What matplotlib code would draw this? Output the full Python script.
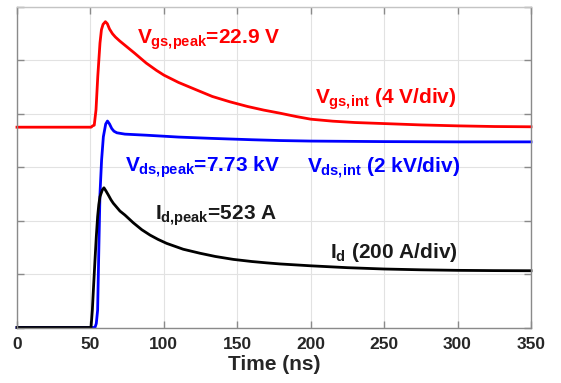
import matplotlib
matplotlib.use('Agg')
import matplotlib.pyplot as plt
import numpy as np

plt.rcParams['font.family'] = 'Liberation Sans'
plt.rcParams['mathtext.fontset'] = 'custom'
plt.rcParams['mathtext.rm'] = 'Liberation Sans:bold'
plt.rcParams['mathtext.it'] = 'Liberation Sans:bold'
plt.rcParams['mathtext.bf'] = 'Liberation Sans:bold'

########################################################
# Waveforms (time in ns)
########################################################

# gate-source voltage, V
t_vgs = [0, 50.5, 51.5, 52.6, 53.8, 55.0, 56.5, 57.5, 58.6, 60.2, 61.5, 63, 65, 67, 70,
         75, 80, 88, 95, 100, 110, 122, 133, 145, 157, 168, 179, 190, 200, 215, 230,
         250, 275, 300, 325, 350]
vgs = [15.0, 15.0, 15.1, 15.15, 16.3, 18.8, 21.3, 22.3, 22.7, 22.9, 22.75, 22.35, 22.0,
       21.75, 21.45, 21.0, 20.55, 19.8, 19.25, 18.9, 18.35, 17.8, 17.3, 16.9, 16.55,
       16.28, 16.05, 15.8, 15.6, 15.45, 15.35, 15.27, 15.17, 15.1, 15.05, 15.03]

# drain-source voltage, kV
t_vds = [0, 53.1, 54.0, 54.9, 55.8, 56.5, 57.6, 58.8, 60.4, 61.6, 63, 64.5, 66, 68, 73.5,
         88, 110, 133, 160, 179, 200, 250, 300, 350]
vds = [0, 0, 0.15, 0.65, 3.15, 5.0, 6.27, 7.14, 7.62, 7.73, 7.62, 7.45, 7.35, 7.29, 7.24,
       7.2, 7.13, 7.08, 7.03, 7.0, 6.98, 6.96, 6.95, 6.95]

# drain current, A
t_id = [0, 50.4, 51.3, 52.2, 53.1, 54.0, 54.9, 55.7, 56.5, 58.1, 59.2, 60.5, 62.2, 64,
        65.6, 66.7, 70.1, 73.5, 79.2, 85, 90.6, 96, 101.9, 113.2, 124.6, 135, 147.3, 160,
        170, 179, 200, 225, 250, 275, 300, 325, 350]
i_d = [0, 0, 65, 160, 252, 340, 415, 460, 490, 515, 523, 512, 496, 478, 465, 458, 436,
       421, 392, 366, 346, 330, 315, 293, 278, 266, 255, 247, 242, 238, 231, 224, 219,
       216, 214, 213, 212.5]

# volts per division for each trace
VGS_DIV = 4
VDS_DIV = 2
ID_DIV = 200

x_ticks = [0, 50, 100, 150, 200, 250, 300, 350]

########################################################
# Plot
########################################################

fig = plt.figure(figsize=(5.61, 3.83), dpi=100)
ax = fig.add_axes([17 / 561, 1 - 327.5 / 383, 514 / 561, 320.5 / 383])

ax.plot(t_vgs, np.array(vgs) / VGS_DIV, color='#ff0000', lw=2.0, clip_on=False)
ax.plot(t_vds, np.array(vds) / VDS_DIV, color='#0000ff', lw=2.0, clip_on=False)
ax.plot(t_id, np.array(i_d) / ID_DIV, color='black', lw=2.0, clip_on=False)

ax.set_xlim(0, 350)
ax.set_ylim(0, 6)
ax.set_xticks(x_ticks)
ax.set_yticks(np.arange(0, 7))
ax.grid(True, color='#e2e2e2', lw=0.8)
ax.set_axisbelow(True)

for side in ['left', 'right', 'bottom']:
    ax.spines[side].set_color('#8a8a8a')
    ax.spines[side].set_linewidth(1.0)
ax.spines['top'].set_color('#c4c4c4')
ax.spines['top'].set_linewidth(1.0)

ax.tick_params(direction='in', top=True, right=True, length=5, width=1,
               color='#8a8a8a', labelleft=False, pad=7)
for lbl in ax.get_xticklabels():
    lbl.set_fontsize(12.5)
    lbl.set_fontweight('bold')
    lbl.set_color('#262626')

ax.set_xlabel('Time (ns)', fontsize=15, fontweight='bold', color='#262626', labelpad=2)

txt = dict(fontsize=15, fontweight='bold', ha='left', va='baseline')
ax.text(81.5, 5.32, r'$V_{gs{,}peak}$=%.1f V' % max(vgs), color='#ff0000', **txt)
ax.text(202.9, 4.195, r'$V_{gs{,}int}$ (4 V/div)', color='#ff0000', **txt)
ax.text(73.5, 2.915, r'$V_{ds{,}peak}$=%.2f kV' % max(vds), color='#0000ff', **txt)
ax.text(197.3, 2.885, r'$V_{ds{,}int}$ (2 kV/div)', color='#0000ff', **txt)
ax.text(94, 2.01, r'$I_{d{,}peak}$=%d A' % max(i_d), color='#1a1a1a', **txt)
ax.text(213.1, 1.295, r'$I_{d}$ (200 A/div)', color='#1a1a1a', **txt)

fig.savefig('out.png', dpi=100, facecolor='white')
